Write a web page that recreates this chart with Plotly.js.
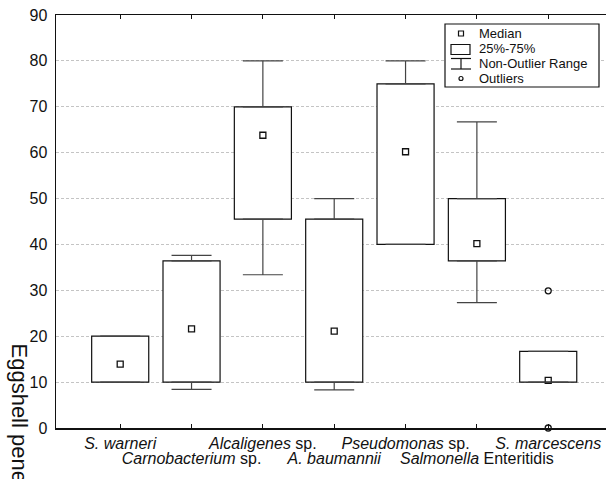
<!DOCTYPE html>
<html>
<head>
<meta charset="utf-8">
<script src="https://cdn.plot.ly/plotly-3.0.1.min.js"></script>
<style>html,body{margin:0;padding:0;background:#fff;}#chart{width:607px;height:479px;}</style>
</head>
<body>
<div id="chart"></div>
<script>
// ---- data ----
const categories = ["S. warneri", "Carnobacterium sp.", "Alcaligenes sp.", "A. baumannii", "Pseudomonas sp.", "Salmonella Enteritidis", "S. marcescens"];
const tickLabels = ["<i>S. warneri</i>", "<i>Carnobacterium</i> sp.", "<i>Alcaligenes</i> sp.", "<i>A. baumannii</i>", "<i>Pseudomonas</i> sp.", "<i>Salmonella</i> Enteritidis", "<i>S. marcescens</i>"];
const q1 = [10, 10, 45.5, 10, 40, 36.4, 10];
const median = [13.9, 21.6, 63.8, 21.1, 60.2, 40.2, 10.4];
const q3 = [20, 36.4, 70, 45.5, 75, 50, 16.7];
const whiskerMin = [10, 8.4, 33.4, 8.3, 40, 27.3, 10];
const whiskerMax = [20, 37.6, 80, 50, 80, 66.7, 16.7];
const outlierCat = [6, 6];
const outlierVal = [29.9, 0];
const yTicks = [0, 10, 20, 30, 40, 50, 60, 70, 80, 90];

const legendLabels = ["Median", "25%-75%", "Non-Outlier Range", "Outliers"];

// ---- derived ----
const idx = categories.map((_, i) => i);
const boxHeight = q3.map((v, i) => v - q1[i]);
const upperLen = whiskerMax.map((v, i) => v - q3[i]);
const lowerLen = q1.map((v, i) => v - whiskerMin[i]);
// two staggered rows of labels: even categories on row 1, odd ones on row 2
const row1Text = tickLabels.map((t, i) => i % 2 === 0 ? t : "");
const row2Vals = idx.filter(i => i % 2 === 1);
const row2Text = row2Vals.map(i => tickLabels[i]);

const FONT = "Liberation Sans, Arial, sans-serif";
const XRANGE = [-0.9, 6.81];

const traces = [
  {
    type: "bar", x: idx, y: boxHeight, base: q1, width: 0.8,
    marker: {color: "rgba(255,255,255,1)", line: {color: "#111", width: 1.2}},
    hoverinfo: "skip", showlegend: false
  },
  {
    type: "scatter", mode: "markers", x: idx, y: q3,
    marker: {size: 1, color: "rgba(0,0,0,0)"},
    error_y: {type: "data", symmetric: false, array: upperLen, arrayminus: upperLen.map(() => 0), color: "#444", thickness: 1.2, width: 20},
    hoverinfo: "skip", showlegend: false
  },
  {
    type: "scatter", mode: "markers", x: idx, y: q1, xaxis: "x2",
    marker: {size: 1, color: "rgba(0,0,0,0)"},
    error_y: {type: "data", symmetric: false, array: lowerLen.map(() => 0), arrayminus: lowerLen, color: "#444", thickness: 1.2, width: 20},
    hoverinfo: "skip", showlegend: false
  },
  {
    type: "scatter", mode: "markers", x: idx, y: median,
    marker: {symbol: "square-open", size: 6, color: "#111", line: {width: 1.3}},
    showlegend: false
  },
  {
    type: "scatter", mode: "markers", x: outlierCat, y: outlierVal, cliponaxis: false,
    marker: {symbol: "circle-open", size: 6, color: "#111", line: {width: 1.3}},
    showlegend: false
  }
];

// pixel -> paper helpers for the hand-drawn legend
const L = 56, R = 606, T = 15, B = 428;
const px = x => (x - L) / (R - L);
const py = y => (B - y) / (B - T);

const shapes = [
  {type: "rect", xref: "paper", yref: "paper", x0: px(445), x1: px(599), y0: py(87), y1: py(24), line: {color: "#111", width: 1.2}, fillcolor: "white"},
  {type: "rect", xref: "paper", yref: "paper", x0: px(458.5), x1: px(463.5), y0: py(36), y1: py(31), line: {color: "#111", width: 1.2}},
  {type: "rect", xref: "paper", yref: "paper", x0: px(451), x1: px(470), y0: py(54.5), y1: py(44.5), line: {color: "#111", width: 1.2}},
  {type: "line", xref: "paper", yref: "paper", x0: px(451), x1: px(471), y0: py(58.5), y1: py(58.5), line: {color: "#111", width: 1.2}},
  {type: "line", xref: "paper", yref: "paper", x0: px(461), x1: px(461), y0: py(58.5), y1: py(69), line: {color: "#111", width: 1.2}},
  {type: "line", xref: "paper", yref: "paper", x0: px(451), x1: px(471), y0: py(69), y1: py(69), line: {color: "#111", width: 1.2}},
  {type: "circle", xref: "paper", yref: "paper", x0: px(459), x1: px(463), y0: py(80.5), y1: py(76.5), line: {color: "#111", width: 1.2}}
];

const legendY = [33.5, 49, 63.5, 78.5];
const annotations = legendLabels.map((t, i) => ({
  xref: "paper", yref: "paper", x: px(477), y: py(legendY[i]), xanchor: "left", yanchor: "middle",
  text: t, showarrow: false, font: {family: FONT, size: 13, color: "#111"}
}));
annotations.push({
  xref: "paper", yref: "paper", x: px(19), y: py(341), xanchor: "center", yanchor: "top",
  text: "Eggshell penetration (%)", textangle: 90, showarrow: false,
  font: {family: FONT, size: 22, color: "#111"}
});

const layout = {
  width: 607, height: 479,
  margin: {l: 56, r: 1, t: 15, b: 51},
  paper_bgcolor: "white", plot_bgcolor: "white",
  font: {family: FONT, color: "#111"},
  showlegend: false,
  xaxis: {
    range: XRANGE, tickmode: "array", tickvals: idx, ticktext: row1Text,
    showgrid: false, zeroline: false, showline: true, linecolor: "#111", linewidth: 1.5,
    mirror: "ticks", ticks: "inside", ticklen: 4, tickcolor: "#111", tickwidth: 1,
    tickangle: 0, tickfont: {family: FONT, size: 16, color: "#111"}, ticklabelstandoff: 0, fixedrange: true
  },
  xaxis2: {
    overlaying: "x", side: "bottom", range: XRANGE, tickmode: "array", tickvals: row2Vals, ticktext: row2Text,
    showgrid: false, zeroline: false, showline: false, ticks: "",
    tickangle: 0, tickfont: {family: FONT, size: 16, color: "#111"}, ticklabelstandoff: 19, fixedrange: true
  },
  yaxis: {
    range: [0, 90], tickmode: "array", tickvals: yTicks,
    showgrid: true, gridcolor: "#c4c4c4", griddash: "3px,2px", gridwidth: 1,
    zeroline: false, showline: true, linecolor: "#111", linewidth: 1.5, mirror: false,
    ticks: "", tickfont: {family: FONT, size: 16, color: "#111"}, ticklabelstandoff: 4, fixedrange: true
  },
  shapes: shapes,
  annotations: annotations
};

Plotly.newPlot("chart", traces, layout, {displayModeBar: false, staticPlot: true});
</script>
</body>
</html>
